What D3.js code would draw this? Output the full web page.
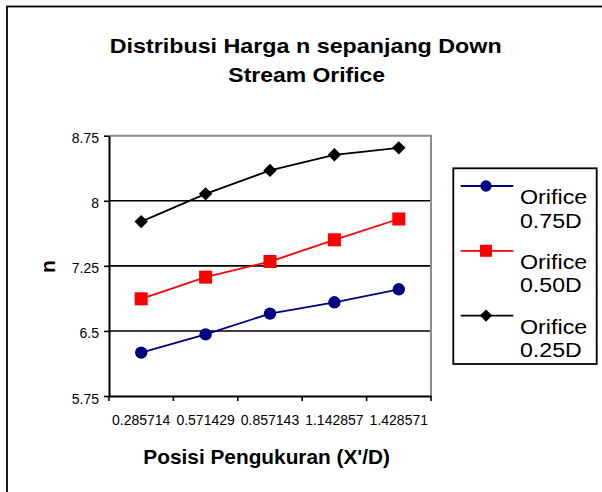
<!DOCTYPE html>
<html>
<head>
<meta charset="utf-8">
<script src="https://cdn.jsdelivr.net/npm/d3@7"></script>
<style>
  body { margin: 0; background: #fff; }
  text { font-family: "Liberation Sans", Arial, sans-serif; }
</style>
</head>
<body>
<svg width="602" height="492"></svg>
<script>
var categories = ["0.285714", "0.571429", "0.857143", "1.142857", "1.428571"];
var yTicks = [5.75, 6.5, 7.25, 8, 8.75];
var seriesNames = ["Orifice 0.75D", "Orifice 0.50D", "Orifice 0.25D"];
var orifice075 = [6.25, 6.46, 6.70, 6.83, 6.98];
var orifice050 = [6.87, 7.12, 7.30, 7.55, 7.79];
var orifice025 = [7.76, 8.08, 8.35, 8.53, 8.61];

var series = [
    {name: seriesNames[0], values: orifice075, color: "#000080", symbol: d3.symbolCircle, size: 120, rot: 0},
    {name: seriesNames[1], values: orifice050, color: "#ff0000", symbol: d3.symbolSquare, size: 170, rot: 0},
    {name: seriesNames[2], values: orifice025, color: "#000000", symbol: d3.symbolSquare, size: 90, rot: 45}
];

var svg = d3.select("svg");

// outer chart frame (runs off the right and bottom edge)
svg.append("rect")
    .attr("x", 7).attr("y", 6.5)
    .attr("width", 640).attr("height", 520)
    .attr("fill", "none").attr("stroke", "#000").attr("stroke-width", 1.8);

var plot = {left: 109, right: 431, top: 135.7, bottom: 396};

var x = d3.scaleBand().domain(categories).range([plot.left, plot.right]).padding(0);
var y = d3.scaleLinear().domain([5.75, 8.75]).range([plot.bottom, plot.top]);

// gridlines
svg.append("g").selectAll("line")
    .data(yTicks.filter(function(d) { return d > 5.75 && d < 8.75; }))
    .enter().append("line")
    .attr("x1", plot.left).attr("x2", plot.right)
    .attr("y1", function(d) { return y(d); }).attr("y2", function(d) { return y(d); })
    .attr("stroke", "#000").attr("stroke-width", 1.6);

// plot border top/right (gray)
svg.append("path")
    .attr("d", "M" + plot.left + "," + y(8.75) + "H" + plot.right + "V" + plot.bottom)
    .attr("fill", "none").attr("stroke", "#8c8c8c").attr("stroke-width", 2);

// y axis
var yAxis = svg.append("g")
    .attr("transform", "translate(" + plot.left + ",0)")
    .call(d3.axisLeft(y).tickValues(yTicks).tickSize(5).tickSizeOuter(0).tickPadding(5).tickFormat(d3.format("")));
yAxis.select(".domain").attr("stroke-width", 2);
yAxis.selectAll(".tick line").attr("stroke-width", 1.6);
yAxis.selectAll("text").attr("font-size", 14).attr("fill", "#000")
    .attr("font-family", "'Liberation Sans', Arial, sans-serif").attr("dy", "0.5em");

// x axis
var xAxis = svg.append("g")
    .attr("transform", "translate(0," + plot.bottom + ")")
    .call(d3.axisBottom(x).tickSize(0).tickSizeOuter(0).tickPadding(19));
xAxis.select(".domain").attr("stroke-width", 2);
xAxis.selectAll("text").attr("font-size", 14).attr("fill", "#000")
    .attr("font-family", "'Liberation Sans', Arial, sans-serif");
var bounds = categories.map(function(d) { return x(d); }).concat([x(categories[categories.length - 1]) + x.bandwidth()]);
xAxis.selectAll(".bound").data(bounds).enter().append("line")
    .attr("x1", function(d) { return d; }).attr("x2", function(d) { return d; })
    .attr("y1", 0).attr("y2", 5)
    .attr("stroke", "#000").attr("stroke-width", 1.6);

// series
var line = d3.line()
    .x(function(d, i) { return x(categories[i]) + x.bandwidth() / 2; })
    .y(function(d) { return y(d); });

series.forEach(function(s) {
    svg.append("path").datum(s.values)
        .attr("d", line)
        .attr("fill", "none").attr("stroke", s.color).attr("stroke-width", 1.8);
    svg.append("g").selectAll("path").data(s.values).enter().append("path")
        .attr("d", d3.symbol().type(s.symbol).size(s.size))
        .attr("transform", function(d, i) {
            return "translate(" + (x(categories[i]) + x.bandwidth() / 2) + "," + y(d) + ") rotate(" + s.rot + ")"; })
        .attr("fill", s.color);
});

// titles
function label(txt, px, py, size, weight, len) {
    var t = svg.append("text")
        .attr("x", px).attr("y", py)
        .attr("text-anchor", "middle")
        .attr("font-size", size).attr("font-weight", weight)
        .text(txt);
    if (len) t.attr("textLength", len).attr("lengthAdjust", "spacingAndGlyphs");
    return t;
}
label("Distribusi Harga n sepanjang Down", 305.7, 53.3, 21, "bold", 392);
label("Stream Orifice", 306.7, 81.7, 21, "bold", 156.7);
label("Posisi Pengukuran (X'/D)", 266.7, 464, 21, "bold", 246.7);
svg.append("text")
    .attr("transform", "translate(55,266.5) rotate(-90)")
    .attr("text-anchor", "middle")
    .attr("font-size", 21).attr("font-weight", "bold")
    .text("n");

// legend
var legend = svg.append("g");
legend.append("rect")
    .attr("x", 453.3).attr("y", 168.3).attr("width", 143.4).attr("height", 195.7)
    .attr("fill", "#fff").attr("stroke", "#000").attr("stroke-width", 1.8);
var item = legend.selectAll(".item").data(series).enter().append("g")
    .attr("transform", function(d, i) { return "translate(0," + (186 + i * 64.8) + ")"; });
item.append("line")
    .attr("x1", 460.7).attr("x2", 513.3).attr("y1", 0).attr("y2", 0)
    .attr("stroke", function(d) { return d.color; }).attr("stroke-width", 1.8);
item.append("path")
    .attr("d", function(d) { return d3.symbol().type(d.symbol).size(d.size * 0.85)(); })
    .attr("transform", function(d) { return "translate(486,0) rotate(" + d.rot + ")"; })
    .attr("fill", function(d) { return d.color; });
item.append("text")
    .attr("x", 520).attr("y", 18)
    .attr("font-size", 20)
    .attr("textLength", 67.3).attr("lengthAdjust", "spacingAndGlyphs")
    .text(function(d) { return d.name.split(" ")[0]; });
item.append("text")
    .attr("x", 520).attr("y", 41.5)
    .attr("font-size", 20)
    .attr("textLength", 61.7).attr("lengthAdjust", "spacingAndGlyphs")
    .text(function(d) { return d.name.split(" ")[1]; });
</script>
</body>
</html>
